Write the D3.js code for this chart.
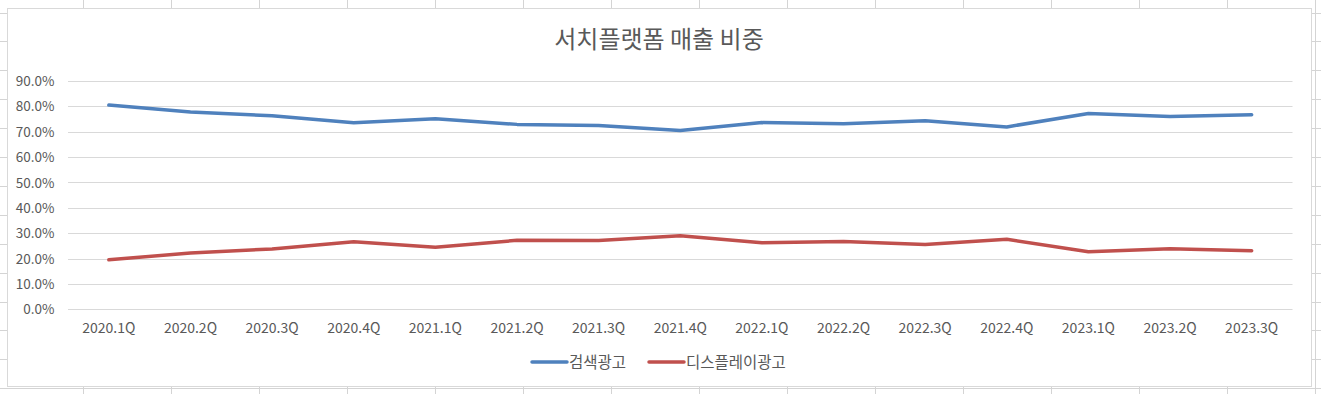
<!DOCTYPE html>
<html><head><meta charset="utf-8">
<script src="https://cdn.jsdelivr.net/npm/d3@7"></script>
<style>html,body{margin:0;padding:0;background:#fff;overflow:hidden}</style>
</head><body>
<svg id="c" width="1321" height="394"></svg>
<script>
const categories = ["2020.1Q","2020.2Q","2020.3Q","2020.4Q","2021.1Q","2021.2Q","2021.3Q","2021.4Q","2022.1Q","2022.2Q","2022.3Q","2022.4Q","2023.1Q","2023.2Q","2023.3Q"];
const searchAds = [0.805,0.778,0.763,0.735,0.751,0.729,0.725,0.705,0.736,0.731,0.743,0.719,0.772,0.760,0.767];
const displayAds = [0.195,0.222,0.238,0.266,0.245,0.272,0.271,0.290,0.262,0.267,0.255,0.276,0.227,0.239,0.231];
const yTicks = [0,0.1,0.2,0.3,0.4,0.5,0.6,0.7,0.8,0.9];
const seriesNames = ["검색광고","디스플레이광고"];
const seriesColors = ["#4F81BD","#C0504D"];

const svg = d3.select("#c");
const W = 1321, H = 394;
const font = "'Noto Sans CJK KR','Noto Sans',sans-serif";

// spreadsheet grid background
const bg = svg.append("g");
const colX = d3.range(0, 15).map(k => 82.5 + 88 * k);
const rowY = d3.range(0, 14).map(k => 12.5 + 28.9 * k);
colX.forEach(x => bg.append("line").attr("x1", Math.round(x)+0.5).attr("x2", Math.round(x)+0.5).attr("y1",0).attr("y2",H).attr("stroke","#D4D4D4"));
rowY.forEach(y => bg.append("line").attr("x1",0).attr("x2",W).attr("y1",Math.round(y)+0.5).attr("y2",Math.round(y)+0.5).attr("stroke","#D4D4D4"));

// chart area
svg.append("rect").attr("x",7.5).attr("y",8.5).attr("width",1304).attr("height",378)
  .attr("fill","#fff").attr("stroke","#D9D9D9");

const x = d3.scaleBand().domain(categories).range([68, 1292.5]);
const y = d3.scaleLinear().domain([0, 0.9]).range([309.3, 81]);

// gridlines
svg.append("g").selectAll("line").data(yTicks).join("line")
  .attr("x1", 68).attr("x2", 1292.5)
  .attr("y1", d => Math.round(y(d)) + 0.5).attr("y2", d => Math.round(y(d)) + 0.5)
  .attr("stroke", "#D9D9D9").attr("stroke-width", 1);

// y axis
const yAxis = d3.axisLeft(y).tickValues(yTicks).tickFormat(d3.format(".1%")).tickSize(0).tickPadding(0);
const ya = svg.append("g").attr("transform","translate(54.5,0)").call(yAxis);
ya.select(".domain").remove();
ya.selectAll("text").attr("fill","#595959").style("font-family",font).style("font-size","13.5px").attr("dy","0.34em");

// x axis
const xAxis = d3.axisBottom(x).tickSize(0).tickPadding(0);
const xa = svg.append("g").attr("transform","translate(0,323.5)").call(xAxis);
xa.select(".domain").remove();
xa.selectAll("text").attr("fill","#595959").style("font-family",font).style("font-size","14px").attr("dy","0.71em");

// lines
const line = d3.line().x((d,i) => x(categories[i]) + x.bandwidth()/2).y(d => y(d));
[searchAds, displayAds].forEach((s, i) => {
  svg.append("path").datum(s).attr("d", line).attr("fill","none")
    .attr("stroke", seriesColors[i]).attr("stroke-width", 3.5)
    .attr("stroke-linejoin","round").attr("stroke-linecap","round");
});

// title
svg.append("text").attr("x", 659).attr("y", 48).attr("text-anchor","middle")
  .attr("fill","#595959").style("font-family",font).style("font-size","24px").text("서치플랫폼 매출 비중");

// legend
const leg = [{x:532, tx:569},{x:649, tx:686}];
seriesNames.forEach((n,i) => {
  svg.append("line").attr("x1",leg[i].x).attr("x2",leg[i].x+35).attr("y1",362).attr("y2",362)
    .attr("stroke",seriesColors[i]).attr("stroke-width",3.5).attr("stroke-linecap","round");
  svg.append("text").attr("x",leg[i].tx).attr("y",367.5).attr("fill","#595959")
    .style("font-family",font).style("font-size","15.5px").text(n);
});
</script>
</body></html>
